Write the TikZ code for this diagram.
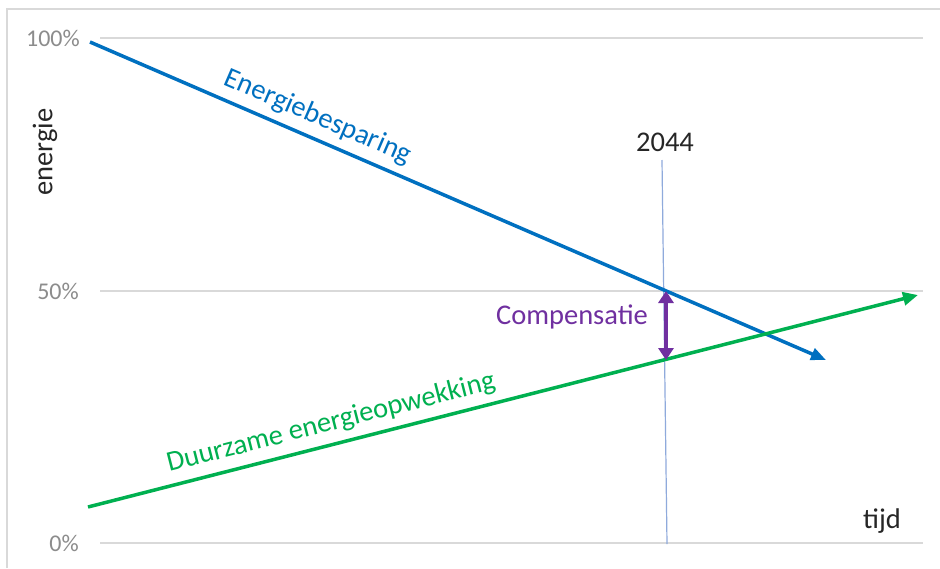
\documentclass[tikz,border=0pt]{standalone}
\usepackage{fontspec}
\setmainfont{Carlito}
\usetikzlibrary{arrows.meta}
\definecolor{obblue}{HTML}{0070C0}
\definecolor{obgreen}{HTML}{00B050}
\definecolor{obpurple}{HTML}{7030A0}
\definecolor{gridgray}{HTML}{D9D9D9}
\definecolor{ticklbl}{HTML}{8C8C8C}
\definecolor{darktxt}{HTML}{262626}
\definecolor{vline}{HTML}{8FAADC}
\begin{document}
\begin{tikzpicture}[x=1pt,y=-1pt,
  grid/.style={draw=gridgray,line width=2pt},
  ticklabel/.style={anchor=east,text=ticklbl,font=\fontsize{24}{26}\selectfont,inner sep=0pt},
  axlabel/.style={text=darktxt,font=\fontsize{28.5}{31}\selectfont,inner sep=0pt},
  serieslabel/.style={font=\fontsize{28.5}{31}\selectfont,inner sep=0pt}]
\useasboundingbox (0,0) rectangle (940,568);
\fill[white] (0,0) rectangle (940,568);
% frame
\draw[draw=gridgray,line width=1.5pt] (7,568) -- (7,9) -- (940,9);
% gridlines
\coordinate (g100a) at (100,38); \coordinate (g100b) at (923,38);
\coordinate (g50a) at (100,291); \coordinate (g50b) at (923,291);
\coordinate (g0a) at (100,543); \coordinate (g0b) at (923,543);
\draw[grid] (g100a) -- (g100b);
\draw[grid] (g50a) -- (g50b);
\draw[grid] (g0a) -- (g0b);
\node[ticklabel] (t100) at (80,38) {100\%};
\node[ticklabel] (t50) at (79,291) {50\%};
\node[ticklabel] (t0) at (79,543) {0\%};
% axis labels
\node[axlabel,rotate=90] (energie) at (45,152) {energie};
\node[axlabel] (tijd) at (882,521) {tijd};
% vertical 2044 line
\node[axlabel] (jaar) at (665,142) {2044};
\coordinate (vtop) at (662,160);
\coordinate (vbot) at (667,544);
\draw[draw=vline,line width=1.2pt] (vtop) -- (vbot);
% blue line
\coordinate (bstart) at (90,42);
\coordinate (bend) at (826,360);
\draw[draw=obblue,line width=3.5pt,-{Triangle[length=15pt,width=12pt]}] (bstart) -- (bend);
\node[serieslabel,text=obblue,rotate=-23.3] (besp) at (318,117) {Energiebesparing};
% green line
\coordinate (gstart) at (88,507);
\coordinate (gend) at (918,295);
\draw[draw=obgreen,line width=3.5pt,-{Triangle[length=15pt,width=13pt]}] (gstart) -- (gend);
\node[serieslabel,text=obgreen,rotate=14.3] (duur) at (331,423) {Duurzame energieopwekking};
% compensation arrow
\coordinate (ctop) at (666,291);
\coordinate (cbot) at (666,360);
\draw[draw=obpurple,line width=3.5pt,{Triangle[length=12pt,width=15pt]}-{Triangle[length=12pt,width=15pt]}] (ctop) -- (cbot);
\node[serieslabel,text=obpurple] (comp) at (572,317) {Compensatie};
\end{tikzpicture}
\end{document}
